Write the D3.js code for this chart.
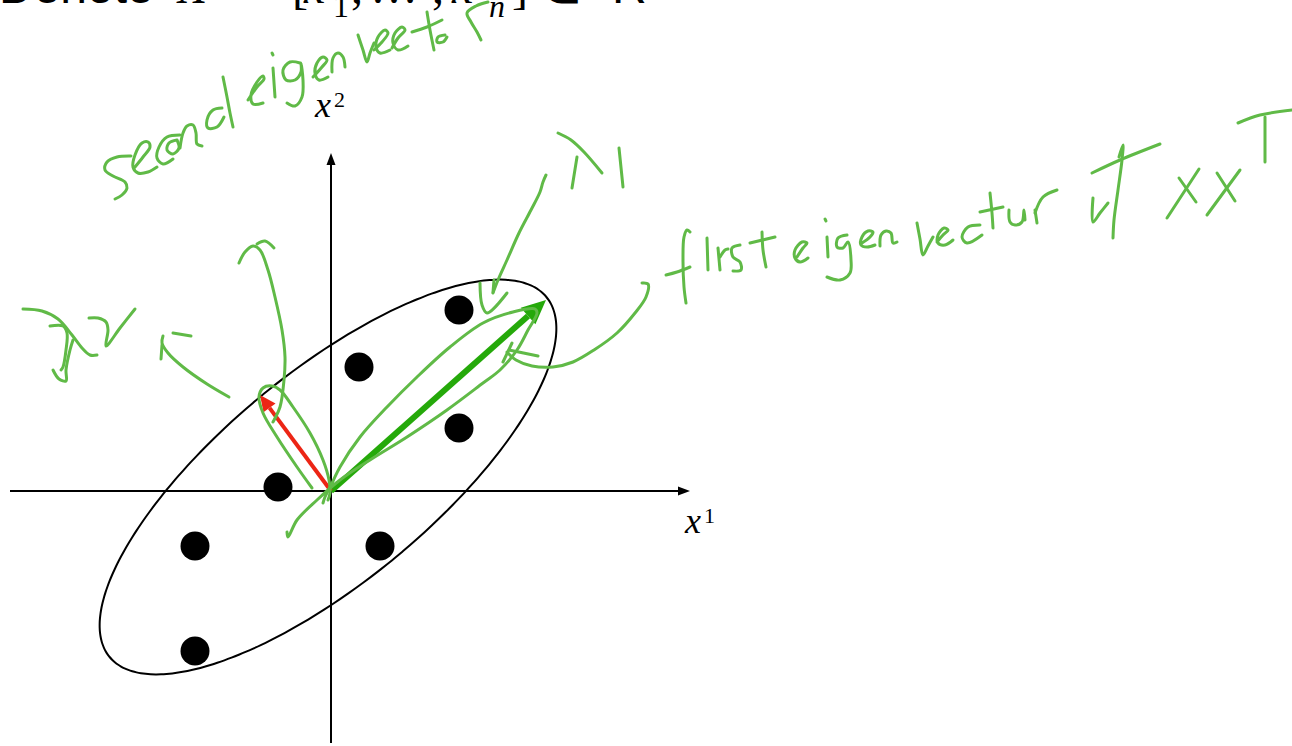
<!DOCTYPE html>
<html>
<head>
<meta charset="utf-8">
<script src="https://cdn.jsdelivr.net/npm/d3@7"></script>
<style>
  html, body { margin: 0; padding: 0; background: #ffffff; overflow: hidden; }
  svg { display: block; }
</style>
</head>
<body>
<svg id="chart" width="1292" height="746"></svg>
<script>
// ---- data (plane units, origin at the axes crossing) ----
const pointX = [12.8, 2.8, 12.8, -5.3, -13.6, 4.9, -13.6];
const pointY = [18.1, 12.4, 6.3, 0.4, -5.5, -5.5, -16.0];

// principal directions of X X^T
const eigen1 = [21.5, 19.1];
const eigen2 = [-7.1, 9.6];

// covariance ellipse: centre, semi-axes, rotation (degrees)
const ellipseCenter = [-0.3, 1.4];
const ellipseAxes = [28.3, 10.5];
const ellipseAngle = 39.5;

// visible extent of the two axes
const xExtent = [-32.1, 35.9];
const yExtent = [-25.2, 33.8];

// axis names
const axisNames = ["x", "x"];
const axisSups = ["1", "2"];

// ---- pen annotations (plane units) ----
const inkSecondEigen = [
  [[-20.0,33.5],[-21.4,33.4],[-22.4,32.9],[-22.6,32.1],[-21.8,31.5],[-20.6,30.9],[-20.4,30.3],[-20.9,29.6],[-21.6,29.2]],
  [[-19.6,32.4],[-18.8,33.4],[-18.1,34.4],[-18.3,34.9],[-18.9,34.8],[-19.6,33.6],[-19.8,32.4],[-19.3,31.8],[-18.3,31.9],[-17.4,32.4]],
  [[-15.1,35.6],[-16.4,35.4],[-17.2,34.4],[-17.4,33.3],[-16.8,32.7],[-15.8,33.2]],
  [[-15.4,35.1],[-16.2,34.8],[-16.4,34.1],[-15.8,33.7],[-15.2,34.3],[-15.4,35.1]],
  [[-15.1,34.3],[-14.8,35.8],[-14.4,36.5],[-13.8,36.6],[-13.5,35.8],[-13.4,34.7],[-12.9,34.5]],
  [[-10.9,38.3],[-11.8,38.1],[-12.4,37.1],[-12.3,36.3],[-11.4,36.4],[-10.7,37.4]],
  [[-10.8,41.4],[-10.4,39.4],[-10.1,37.8],[-9.8,36.4]],
  [[-8.3,39.1],[-7.4,40.4],[-6.7,41.2],[-6.8,41.5],[-7.4,40.9],[-8.0,39.6],[-7.8,38.7],[-6.8,38.8]],
  [[-5.8,42.3],[-5.6,39.4]],
  [[-5.9,43.8],[-5.8,43.6]],
  [[-3.1,42.8],[-4.1,42.9],[-4.8,42.1],[-4.5,41.1],[-3.6,41.1],[-3.0,41.9],[-3.0,42.8],[-2.8,41.1],[-2.9,39.4],[-3.6,38.5],[-4.4,38.8]],
  [[-1.8,41.4],[-0.9,42.4],[-0.4,43.1],[-0.8,43.4],[-1.4,42.8],[-1.6,41.8],[-1.2,41.1],[-0.3,41.4]],
  [[0.1,41.9],[0.2,43.3],[0.7,43.8],[1.2,43.4],[1.4,42.4]],
  [[2.7,45.6],[3.2,44.1],[3.6,42.9],[3.9,43.8],[4.3,44.8]],
  [[4.3,44.1],[5.1,44.9],[5.7,45.8],[5.4,46.1],[4.7,45.4],[4.5,44.4],[4.9,43.8],[5.9,44.1]],
  [[6.1,44.3],[6.7,45.3],[7.4,46.1],[7.1,46.4],[6.4,45.8],[6.2,44.8],[6.7,44.1],[7.7,44.5]],
  [[9.6,47.9],[9.9,46.1],[10.3,44.1]],
  [[8.1,45.9],[9.6,46.4],[11.1,47.1]],
  [[11.4,45.6],[10.7,45.4],[10.6,44.9],[11.2,44.9],[11.6,45.4]],
  [[15.7,48.9],[14.5,48.5],[13.6,47.8],[14.0,46.9],[14.6,45.9],[15.0,45.1]]
];

const inkLambda2 = [
  [[-30.8,18.2],[-28.9,18.0],[-27.3,17.2],[-25.9,15.6],[-24.9,14.3],[-24.1,13.6],[-23.4,13.6]],
  [[-28.1,16.5],[-26.8,16.5],[-26.4,15.8],[-26.5,14.1],[-26.8,12.4],[-27.0,12.1]],
  [[-27.8,12.1],[-27.2,11.2],[-26.5,11.0],[-26.5,12.1],[-26.1,14.1],[-25.8,15.1]],
  [[-24.2,17.3],[-23.3,17.3],[-22.5,16.9],[-22.3,16.1],[-22.5,14.5],[-21.1,16.3],[-19.6,18.2]],
  // pointer towards the second direction
  [[-10.2,9.4],[-12.4,10.7],[-14.8,12.4],[-16.3,13.8],[-16.9,14.8],[-16.8,15.5]],
  [[-17.0,13.2],[-16.9,14.6]],
  [[-15.8,15.8],[-14.0,15.5]],
  // arc from the caption down to the red arrow
  [[-9.2,22.8],[-8.6,23.9],[-7.8,24.5],[-7.1,24.1],[-6.3,22.1],[-5.6,19.4],[-4.9,16.1],[-4.6,13.4],[-4.7,11.1],[-5.1,8.4],[-5.8,6.9]],
  [[-7.4,24.7],[-6.6,25.0],[-5.7,24.3]]
];

const inkLoops = [
  // around the second direction
  [[-1.9,0.3],[-3.4,2.4],[-5.4,5.4],[-6.8,7.8],[-7.2,9.4],[-6.8,10.3],[-5.9,10.5],[-5.1,10.1],[-3.8,8.4],[-2.1,5.8],[-0.8,3.1],[-0.2,1.1],[-0.1,-0.2],[-0.3,-0.9]],
  // around the first direction
  [[-0.1,0.3],[0.9,2.4],[2.9,5.4],[5.6,8.4],[8.6,11.4],[11.9,14.4],[15.2,16.8],[18.2,17.9],[20.4,18.2],[20.6,17.8],[19.7,16.1],[18.6,14.1],[16.9,12.1],[15.2,10.8],[11.6,8.1],[7.6,5.4],[3.9,3.1],[0.9,1.1],[-1.4,-0.9],[-3.4,-2.9],[-4.3,-4.6],[-4.4,-4.1]],
  [[-0.1,0.4],[-0.6,-0.6],[-0.8,-1.2]]
];

const inkLambda1 = [
  [[21.5,31.6],[21.2,30.9],[20.9,29.9],[20.0,28.1],[18.8,25.8],[17.6,23.1],[16.7,21.1],[16.2,19.8]],
  [[14.9,20.8],[15.1,18.6],[15.6,17.8],[17.6,19.8]],
  [[16.3,21.1],[16.2,19.9]],
  [[22.7,35.8],[24.0,35.1],[25.3,33.9],[27.1,31.8]],
  [[24.6,33.4],[24.1,30.3]],
  [[28.8,34.3],[29.2,30.4]]
];

const inkFirstEigen = [
  // connector from the caption to the green arrow
  [[31.1,20.8],[31.7,20.7],[31.5,19.4],[30.4,17.8],[28.6,15.8],[26.3,14.1],[24.2,12.9],[22.2,12.4],[20.1,12.5],[18.5,13.1],[17.6,13.9]],
  [[18.1,14.8],[17.2,12.9]],
  [[17.8,14.1],[20.7,13.5]],
  // f i r s t
  [[35.9,25.9],[35.6,26.1],[35.3,25.4],[35.2,23.1],[35.3,20.4],[35.5,18.8]],
  [[33.5,21.6],[34.6,21.9],[35.9,22.4]],
  [[37.6,25.3],[37.7,22.1]],
  [[38.7,24.3],[38.9,22.1]],
  [[38.9,23.4],[39.4,24.1],[39.7,24.2]],
  [[40.9,24.6],[40.1,24.3],[40.2,23.4],[40.9,22.9],[41.0,22.1],[40.2,22.0]],
  [[43.1,25.9],[43.2,24.1],[43.5,22.4]],
  [[41.9,24.8],[44.4,25.4]],
  // e i g e n
  [[46.6,23.4],[47.2,24.3],[47.6,24.8],[47.1,24.9],[46.4,24.1],[46.4,23.3],[46.9,22.9],[47.7,23.3]],
  [[49.6,25.4],[49.7,23.4]],
  [[49.4,27.2],[49.5,27.0]],
  [[51.6,25.6],[50.7,25.3],[50.6,24.4],[51.2,24.3],[51.7,24.9],[52.0,23.1],[51.9,21.8],[50.9,21.1],[49.6,21.4]],
  [[53.1,24.8],[53.9,25.4],[54.2,25.9],[53.7,26.0],[53.1,25.4],[53.0,24.6],[53.6,24.4],[54.4,24.6]],
  [[54.9,24.5],[55.0,25.6],[55.5,26.0],[56.0,25.8],[56.2,24.8],[56.6,24.9]],
  // V e c t u r
  [[58.6,26.8],[58.9,25.2],[59.2,23.6],[59.7,24.5],[60.2,25.4]],
  [[60.6,24.9],[61.2,25.6],[61.7,26.1],[61.3,26.3],[60.7,25.6],[60.7,24.8],[61.4,24.6],[62.2,25.1]],
  [[64.9,26.6],[63.7,26.4],[63.1,25.4],[63.6,24.8],[65.1,25.6]],
  [[65.9,29.8],[66.1,27.8],[66.2,26.3]],
  [[64.9,27.9],[67.2,28.4]],
  [[67.8,28.1],[67.9,26.9],[68.4,26.6],[69.1,26.9],[69.3,28.1],[69.4,27.1]],
  [[70.4,28.1],[70.6,26.8]],
  [[70.4,27.8],[71.2,29.4],[72.6,30.1]],
  // of
  [[76.2,29.3],[76.2,26.9],[76.9,27.8],[77.7,28.8]],
  [[78.8,33.4],[79.2,34.6],[79.1,33.1],[78.7,30.1],[78.3,27.1],[78.2,25.3]],
  [[76.1,31.8],[78.9,33.1],[82.9,34.7]],
  // X X ^T
  [[84.8,31.3],[86.5,28.9]],
  [[86.8,32.2],[83.6,27.3]],
  [[88.6,31.8],[90.4,29.0]],
  [[90.9,32.1],[87.6,27.6]],
  [[90.7,36.8],[92.9,37.6],[96.2,38.1]],
  [[93.4,37.4],[93.4,32.9]]
];

// ---- layout ----
const svg = d3.select("#chart");
const x = d3.scaleLinear().domain(xExtent).range([10, 690]);
const y = d3.scaleLinear().domain(yExtent).range([743, 153]);

const INK = "#60ba47";
const serif = "'Liberation Serif', 'Times New Roman', serif";
const sans = "'Liberation Sans', Arial, sans-serif";

// ---- title line (only its lower edge falls inside the frame) ----
const title = svg.append("g").attr("fill", "#000");
const titleParts = [
  { t: "Denote", x: -1, y: 3, f: sans, s: 48 },
  { t: "X", x: 178, y: 3, f: serif, s: 48, it: true },
  { t: "=", x: 236, y: 3, f: serif, s: 48 },
  { t: "[", x: 292, y: 3, f: serif, s: 48 },
  { t: "x", x: 304, y: 3, f: serif, s: 48, it: true },
  { t: "1", x: 333, y: 17, f: serif, s: 32 },
  { t: ",", x: 351, y: 3, f: serif, s: 48 },
  { t: "…", x: 370, y: 3, f: serif, s: 48 },
  { t: ",", x: 432, y: 3, f: serif, s: 48 },
  { t: "x", x: 452, y: 3, f: serif, s: 48, it: true },
  { t: "n", x: 489, y: 17, f: serif, s: 32, it: true },
  { t: "]", x: 512, y: 3, f: serif, s: 48 },
  { t: "∈", x: 540, y: 3, f: serif, s: 48 },
  { t: "R", x: 612, y: 3, f: sans, s: 48 }
];
title.selectAll("text").data(titleParts).join("text")
  .attr("x", d => d.x).attr("y", d => d.y)
  .attr("font-family", d => d.f).attr("font-size", d => d.s)
  .attr("font-style", d => d.it ? "italic" : "normal")
  .text(d => d.t);

// ---- axes ----
function arrowHead(g, tip, from, len, width, color) {
  const dx = tip[0] - from[0], dy = tip[1] - from[1];
  const L = Math.hypot(dx, dy), ux = dx / L, uy = dy / L;
  const bx = tip[0] - ux * len, by = tip[1] - uy * len;
  const px = -uy * width / 2, py = ux * width / 2;
  g.append("path")
    .attr("d", `M${tip[0]},${tip[1]}L${bx + px},${by + py}L${bx - px},${by - py}Z`)
    .attr("fill", color);
  return [bx, by];
}

const axes = svg.append("g");
const hStart = [x(xExtent[0]), y(0)], hEnd = [x(xExtent[1]), y(0)];
const vStart = [x(0), y(yExtent[0])], vEnd = [x(0), y(yExtent[1])];
const hBase = arrowHead(axes, hEnd, hStart, 12, 9, "#000");
const vBase = arrowHead(axes, vEnd, vStart, 12, 9, "#000");
axes.append("line").attr("x1", hStart[0]).attr("y1", hStart[1]).attr("x2", hBase[0] + 1).attr("y2", hBase[1])
  .attr("stroke", "#000").attr("stroke-width", 2);
axes.append("line").attr("x1", vStart[0]).attr("y1", vStart[1]).attr("x2", vBase[0]).attr("y2", vBase[1] - 1)
  .attr("stroke", "#000").attr("stroke-width", 2);

// axis names
function axisName(px, py, base, sup) {
  const t = svg.append("text").attr("x", px).attr("y", py)
    .attr("font-family", serif).attr("font-size", 36).attr("fill", "#000");
  t.append("tspan").attr("font-style", "italic").text(base);
  t.append("tspan").attr("font-size", 22).attr("dx", 3).attr("dy", -10).text(sup);
}
axisName(x(xExtent[1]) - 5, y(0) + 42, axisNames[0], axisSups[0]);
axisName(x(0) - 16, y(yExtent[1]) - 36, axisNames[1], axisSups[1]);

// ---- ellipse ----
const rot = ellipseAngle * Math.PI / 180;
const ellPts = d3.range(0, 360, 2).map(deg => {
  const t = deg * Math.PI / 180;
  const ex = ellipseAxes[0] * Math.cos(t), ey = ellipseAxes[1] * Math.sin(t);
  return [ellipseCenter[0] + ex * Math.cos(rot) - ey * Math.sin(rot),
          ellipseCenter[1] + ex * Math.sin(rot) + ey * Math.cos(rot)];
});
svg.append("path")
  .attr("d", d3.line().x(d => x(d[0])).y(d => y(d[1])).curve(d3.curveCatmullRomClosed)(ellPts))
  .attr("fill", "none").attr("stroke", "#000").attr("stroke-width", 2);

// ---- sample points ----
svg.append("g").selectAll("circle").data(pointX.map((v, i) => [v, pointY[i]])).join("circle")
  .attr("cx", d => x(d[0])).attr("cy", d => y(d[1])).attr("r", 14.5).attr("fill", "#000");

// ---- eigenvector arrows ----
function vectorArrow(vec, color, width, headLen, headWidth) {
  const g = svg.append("g");
  const o = [x(0), y(0)], tip = [x(vec[0]), y(vec[1])];
  const base = arrowHead(g, tip, o, headLen, headWidth, color);
  g.insert("line", "path").attr("x1", o[0]).attr("y1", o[1]).attr("x2", base[0]).attr("y2", base[1])
    .attr("stroke", color).attr("stroke-width", width);
}
vectorArrow(eigen1, "#25a90a", 6, 24, 22);
vectorArrow(eigen2, "#ec2515", 4, 16, 15);

// ---- pen annotations ----
const pen = d3.line().x(d => x(d[0])).y(d => y(d[1])).curve(d3.curveCatmullRom.alpha(0.5));
const inkGroup = svg.append("g")
  .attr("fill", "none").attr("stroke", INK).attr("stroke-width", 3)
  .attr("stroke-linecap", "round").attr("stroke-linejoin", "round");
[inkSecondEigen, inkLambda2, inkLoops, inkLambda1, inkFirstEigen].forEach(group => {
  inkGroup.append("g").selectAll("path").data(group).join("path").attr("d", pen);
});
</script>
</body>
</html>
